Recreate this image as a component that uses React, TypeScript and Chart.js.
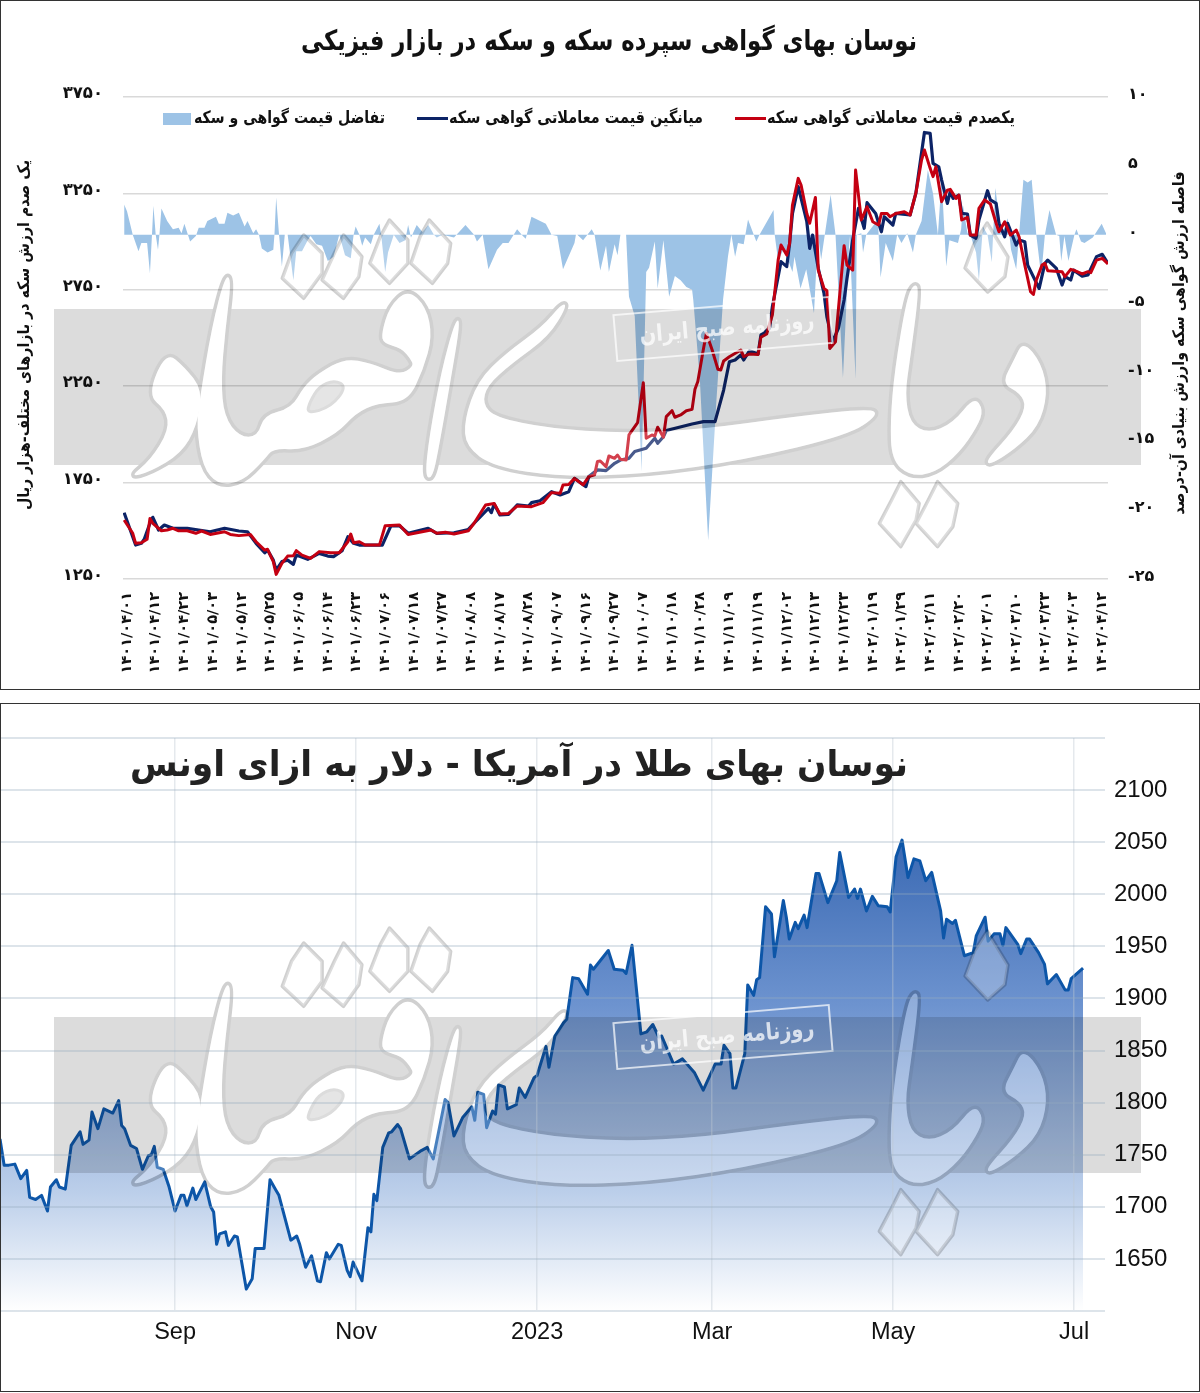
import React, { useEffect, useRef } from "react";
import { Chart, registerables } from "chart.js";

Chart.register(...registerables);

const FA = '"DejaVu Sans"';

const dateLabels = [
  "۱۴۰۱/۰۴/۰۱","۱۴۰۱/۰۴/۱۲","۱۴۰۱/۰۴/۲۲","۱۴۰۱/۰۵/۰۳","۱۴۰۱/۰۵/۱۲","۱۴۰۱/۰۵/۲۵","۱۴۰۱/۰۶/۰۵","۱۴۰۱/۰۶/۱۴","۱۴۰۱/۰۶/۲۳",
  "۱۴۰۱/۰۷/۰۶","۱۴۰۱/۰۷/۱۸","۱۴۰۱/۰۷/۲۷","۱۴۰۱/۰۸/۰۸","۱۴۰۱/۰۸/۱۷","۱۴۰۱/۰۸/۲۸","۱۴۰۱/۰۹/۰۷","۱۴۰۱/۰۹/۱۶","۱۴۰۱/۰۹/۲۷",
  "۱۴۰۱/۱۰/۰۷","۱۴۰۱/۱۰/۱۸","۱۴۰۱/۱۰/۲۸","۱۴۰۱/۱۱/۰۹","۱۴۰۱/۱۱/۱۹","۱۴۰۱/۱۲/۰۲","۱۴۰۱/۱۲/۱۳","۱۴۰۱/۱۲/۲۳","۱۴۰۲/۰۱/۱۹",
  "۱۴۰۲/۰۱/۲۹","۱۴۰۲/۰۲/۱۱","۱۴۰۲/۰۲/۲۰","۱۴۰۲/۰۳/۰۱","۱۴۰۲/۰۳/۱۰","۱۴۰۲/۰۳/۲۳","۱۴۰۲/۰۴/۰۳","۱۴۰۲/۰۴/۱۲",
];

// [trading-day index, thousand rials]
const topPercentile = [
  [-1,1556],[2,1487],[3,1435],[5,1438],[7,1456],[8,1564],[9,1539],[12,1500],[14,1504],[16,1513],[18,1500],[21,1500],[24,1487],[26,1499],[29,1481],[34,1495],[36,1481],[39,1475],[43,1481],[45,1443],[48,1400],[49,1404],[51,1340],[52,1274],[54,1331],[56,1369],[58,1371],[59,1397],[61,1374],[64,1357],[67,1392],[71,1386],[74,1386],[77,1443],[78,1483],[79,1438],[81,1443],[83,1426],[88,1426],[90,1526],[95,1530],[98,1481],[106,1504],[108,1487],[111,1492],[114,1483],[119,1500],[121,1539],[125,1634],[128,1642],[130,1587],[133,1590],[136,1628],[141,1625],[145,1646],[148,1698],[151,1695],[152,1738],[154,1740],[156,1772],[159,1738],[161,1781],[163,1790],[164,1859],[165,1862],[167,1833],[168,1888],[170,1876],[171,1893],[172,1871],[174,1867],[175,1997],[178,2061],[180,2268],[181,1980],[183,1997],[184,1992],[185,2037],[187,1985],[188,2092],[190,2123],[191,2089],[193,2101],[195,2123],[197,2130],[198,2234],[199,2274],[201,2447],[202,2524],[204,2438],[206,2338],[207,2334],[208,2381],[210,2403],[214,2438],[215,2403],[217,2417],[220,2415],[221,2504],[223,2521],[225,2620],[227,2904],[228,2982],[230,2930],[231,2991],[232,3190],[234,3328],[235,3293],[237,3146],[238,3095],[240,3229],[241,2852],[243,2757],[244,2745],[245,2446],[247,2481],[250,2979],[251,2878],[253,2852],[254,3371],[256,3112],[258,3181],[260,3103],[262,3086],[263,3146],[265,3146],[266,3129],[268,3146],[271,3155],[273,3138],[275,3250],[277,3423],[278,3475],[280,3380],[281,3337],[282,3388],[284,3207],[286,3267],[287,3271],[289,3224],[290,3241],[291,3112],[293,3126],[294,3034],[296,3034],[297,3172],[299,3216],[301,3195],[303,3095],[304,3051],[306,3103],[308,3034],[310,3060],[311,3025],[313,2878],[315,2740],[316,2726],[317,2800],[319,2878],[320,2887],[321,2849],[326,2844],[327,2818],[329,2856],[330,2852],[333,2832],[335,2844],[336,2839],[338,2904],[340,2913],[342,2884],
];

const averagePrice = [
  [-1,1594],[3,1426],[5,1435],[6,1456],[8,1539],[9,1570],[11,1504],[13,1530],[16,1513],[21,1513],[25,1504],[29,1495],[34,1513],[39,1499],[42,1495],[45,1435],[48,1386],[49,1400],[51,1348],[52,1296],[54,1340],[56,1348],[58,1326],[59,1374],[63,1352],[67,1383],[70,1369],[72,1366],[75,1397],[77,1469],[79,1435],[81,1426],[89,1426],[92,1526],[95,1526],[98,1487],[105,1513],[108,1487],[114,1490],[119,1507],[121,1539],[126,1616],[127,1594],[128,1639],[130,1582],[133,1585],[136,1634],[140,1628],[141,1646],[144,1656],[148,1703],[151,1686],[154,1703],[156,1772],[160,1729],[161,1781],[164,1816],[167,1812],[170,1850],[172,1867],[175,1876],[177,1911],[181,1928],[184,1980],[185,1954],[187,1988],[188,2020],[197,2054],[201,2066],[205,2066],[208,2230],[210,2377],[212,2386],[214,2412],[215,2386],[217,2434],[220,2417],[221,2516],[224,2550],[225,2663],[228,2896],[230,2870],[231,2991],[232,3146],[234,3285],[236,3164],[237,3103],[238,2965],[239,3034],[241,2860],[243,2731],[244,2610],[246,2481],[248,2550],[250,2697],[251,2809],[253,3008],[255,3172],[257,3069],[258,3202],[261,3146],[263,3051],[264,3129],[267,3086],[268,3146],[273,3138],[275,3250],[278,3566],[280,3561],[281,3406],[283,3388],[284,3319],[286,3198],[287,3259],[288,3224],[290,3241],[291,3146],[293,3143],[294,3034],[296,3017],[297,3112],[300,3264],[301,3216],[303,3198],[304,3095],[306,3025],[307,3095],[310,2982],[311,3008],[313,2999],[314,2878],[318,2757],[320,2887],[321,2904],[324,2861],[326,2775],[327,2818],[329,2801],[330,2852],[333,2821],[335,2827],[338,2922],[340,2934],[342,2887],
];

// [trading-day index, percent]
const priceSpread = [
  [-1,2.2],[0,1.7],[2,0],[4,-1.2],[5,-.6],[7,-.6],[8,-2.8],[8.7,0],[9.2,2.1],[10,0],[10.8,-1.1],[11.3,0],[12,1.9],[14,1],[16,.4],[18,.5],[19,.1],[20,.8],[22,-.5],[24,-.1],[25,.5],[27,.5],[28,1],[31,1.3],[32,.8],[34,.8],[35,1.6],[37,1.4],[39,1.6],[41,.6],[42,1],[44,.1],[45,.4],[46,0],[47,-1],[49,-1.3],[51,-1.1],[51.4,0],[52,2.7],[53,0],[54,-2.3],[55,0],[56,0],[58,-3.3],[59,-1.2],[61,-1.2],[63,-.4],[64,-.1],[66,-.7],[68,-.8],[70,-1.9],[72,-1.6],[74,0],[76,-1.5],[78,-1.7],[79,0],[79.7,.6],[81,0],[82,-.8],[83,-.2],[85,-.7],[86,0],[88,.8],[88.6,0],[90,-2.7],[91,-1.3],[93,0],[95,-.6],[97,-.4],[98,.7],[99,-.2],[101,.7],[103,.2],[105,.7],[107,0],[108,-.2],[110,0],[114,-.2],[118,.7],[121,0],[122,-.5],[124,0],[126,-2.5],[129,-1.1],[131,-.6],[133,-.6],[136,.4],[138,-.1],[139,-.3],[141,1.3],[146,.8],[148,0],[150,-.1],[152,-2.5],[156,-.6],[156.5,0],[157,0],[159,-.4],[162,.4],[163,0],[165,-2.6],[167,-.8],[168,-2.7],[170,-.7],[171,-1.5],[172,0],[174,0],[175,-4.5],[177,-5.9],[179.4,-17.2],[181,-2.7],[182,-2.4],[184,-.5],[185,-3.9],[187,-.4],[189,-4.5],[191,-3],[193,-3.3],[195,-3.8],[197,-4],[197.4,-4.7],[199.7,-10.5],[202.6,-22.2],[205.5,-12],[207.8,-4.7],[209.5,-1.6],[210.7,0],[212,-1.6],[213,-.6],[215,-.7],[216.5,1.1],[219.4,-.5],[220.5,0],[225.4,1.8],[225.8,0],[227,-1.9],[229,-1],[232,-2.7],[232.7,-1.6],[234.8,-3.9],[236.8,-2.5],[239.5,-5.7],[240.9,0],[242,-1.8],[245.3,2.9],[247,0],[249.6,-10.4],[251.9,-.1],[254,-10.5],[254.4,0],[256,.1],[256.6,-1.3],[257.7,0],[261.8,1.1],[262.7,-3.1],[264.5,-.6],[267,-1.9],[268.5,0],[270,-.6],[272,.1],[274,-1.3],[275,0],[277,1],[279.2,4.7],[281,3],[282.7,0],[284,4.1],[285.6,-2.3],[286.7,-.4],[289.7,-.6],[290.8,.4],[291.4,2.2],[293,.1],[294,0],[296,-1.3],[297,-3.3],[298.4,.6],[300,0],[301.5,-2],[302.7,3.4],[305,0],[307,1.2],[308.2,-1.1],[310,-2.5],[311,0],[312.5,4],[314,3.8],[315.4,4],[317,0],[318.7,-3],[320,0],[321.6,1.8],[323.9,0],[325,-.1],[325.7,-1.9],[326.8,-.1],[328.2,-1.9],[330.3,0],[331,.4],[332.6,-.5],[333.8,-.6],[336.7,-.2],[339.8,.8],[341.3,.1],
];

const topLabel = "یکصدم قیمت معاملاتی گواهی سکه";
const avgLabel = "میانگین قیمت معاملاتی گواهی سکه";
const spreadLabel = "تفاضل قیمت گواهی و سکه";
const coinTitle = "نوسان بهای گواهی سپرده سکه و سکه در بازار فیزیکی";
const leftAxisTitle = "یک صدم ارزش سکه در بازارهای مختلف-هزار ریال";
const rightAxisTitle = "فاصله ارزش گواهی سکه وارزش بنیادی آن-درصد";

// [days since 1 Jul 2022, USD per ounce]
const goldPrice = [
  [3,1765],[4.4,1740],[6,1740],[8,1741],[10,1727],[12,1735],[13,1709],[15,1707],[17,1711],[19,1696],[20,1719],[22,1726],[23,1719],[25,1717],[27,1759],[30,1772],[31,1760],[33,1764],[34,1791],[36,1775],[38,1794],[41,1790],[43,1802],[44,1778],[45,1775],[47,1759],[49,1756],[51,1736],[53,1749],[54,1750],[55,1758],[56,1738],[58,1736],[60,1719],[62,1696],[64,1711],[65,1711],[66,1701],[68,1718],[69,1707],[72,1724],[74,1700],[75,1695],[76,1664],[77,1674],[79,1676],[80,1663],[82,1672],[83,1671],[86,1621],[88,1631],[89,1660],[92,1660],[94,1726],[96,1716],[97,1711],[101,1668],[103,1672],[104,1664],[106,1642],[108,1653],[110,1629],[111,1628],[113,1656],[114,1650],[117,1664],[118,1663],[120,1639],[121,1633],[122,1647],[125,1629],[127,1680],[128,1676],[129,1712],[130,1706],[132,1757],[134,1771],[135,1772],[137,1779],[138,1775],[141,1746],[145,1754],[147,1757],[149,1746],[153,1803],[154,1800],[156,1768],[159,1786],[162,1796],[163,1783],[164,1810],[166,1808],[167,1776],[169,1792],[170,1789],[171,1817],[173,1815],[174,1794],[177,1798],[178,1814],[180,1805],[183,1824],[184,1826],[187,1854],[188,1834],[190,1864],[193,1877],[194,1880],[196,1920],[198,1919],[201,1904],[202,1932],[203,1928],[208,1946],[210,1928],[213,1927],[214,1924],[216,1951],[219,1866],[221,1868],[223,1875],[225,1863],[226,1864],[230,1837],[233,1842],[237,1829],[240,1812],[244,1837],[246,1837],[247,1855],[249,1847],[250,1814],[251,1814],[254,1847],[255,1913],[257,1903],[258,1918],[259,1920],[261,1988],[263,1981],[264,1940],[267,1994],[268,1978],[269,1957],[271,1973],[272,1967],[274,1980],[275,1968],[278,2020],[279,2020],[282,1992],[285,2013],[286,2040],[289,1997],[291,2005],[292,1996],[293,2005],[295,1984],[297,1998],[299,1989],[302,1988],[303,1983],[305,2036],[307,2052],[309,2016],[311,2034],[313,2032],[315,2013],[317,2021],[320,1984],[321,1958],[322,1976],[324,1972],[325,1975],[328,1941],[331,1944],[332,1960],[335,1978],[336,1955],[338,1962],[340,1962],[341,1951],[342,1968],[346,1952],[347,1943],[349,1957],[350,1957],[353,1944],[355,1933],[356,1914],[359,1923],[362,1908],[363,1908],[364,1919],[368,1929],
];
const goldTickDays = [62, 123, 184, 243, 304, 365];
const goldTickLabels = ["Sep", "Nov", "2023", "Mar", "May", "Jul"];
const goldTitle = "نوسان بهای طلا در آمریکا - دلار به ازای اونس";
const stampText = "روزنامه صبح ایران";

// Outlines of the paper's calligraphic logo, used only as a background decoration.
const logoPieces = [
  [[15,772],[50,720],[80,630],[75,570],[45,525],[75,395],[105,440],[135,510],[125,620],[100,700],[50,755]],
  [[172,165],[182,180],[172,330],[165,480],[170,590],[195,650],[225,650],[235,585],[280,565],[300,500],[324,460],[367,415],[410,430],[457,465],[479,440],[476,420],[460,385],[430,370],[427,340],[440,260],[470,208],[500,260],[510,350],[495,450],[470,545],[420,550],[385,580],[355,640],[300,690],[250,685],[235,720],[200,785],[160,795],[135,740],[125,620],[130,540],[150,320]],
  [[548,298],[556,305],[540,480],[520,690],[510,775],[498,770],[505,650],[525,450]],
  [[722,250],[730,258],[700,350],[640,430],[600,495],[592,550],[612,592],[700,625],[820,640],[950,628],[1100,590],[1225,565],[1238,585],[1190,645],[1020,720],[860,762],[720,770],[610,740],[565,680],[562,600],[585,480],[630,400],[690,320]],
  [[1298,190],[1305,210],[1290,420],[1282,520],[1290,610],[1320,640],[1360,610],[1395,530],[1410,570],[1400,620],[1370,700],[1330,760],[1290,768],[1260,720],[1258,600],[1265,450],[1285,230]],
  [[1475,362],[1505,430],[1515,520],[1500,620],[1460,690],[1420,735],[1415,720],[1460,630],[1480,560],[1470,520],[1440,490],[1460,420]],
];
const logoHole = [[305,582],[345,560],[370,500],[350,480],[325,500],[310,545]];
const logoDots = [
  [[300,45],[330,100],[330,160],[300,235],[265,175],[280,100]],
  [[365,45],[395,110],[390,170],[365,235],[330,180],[350,100]],
  [[440,0],[470,60],[470,130],[440,190],[408,130],[425,50]],
  [[505,0],[540,70],[535,130],[510,190],[475,130],[490,50]],
  [[1416,9],[1450,111],[1445,170],[1417,216],[1380,144],[1395,70]],
  [[1275,785],[1305,850],[1300,900],[1275,980],[1240,910],[1260,840]],
  [[1335,785],[1368,850],[1360,920],[1335,980],[1300,910],[1320,840]],
];

const toFa = (n: number) => String(n).replace(/\d/g, (d) => "۰۱۲۳۴۵۶۷۸۹"[+d]);
const xy = (pts: number[][]) => pts.map(([x, y]) => ({ x, y }));

function fitText(ctx: any, text: string, cx: number, cy: number, width: number, font: string, color: string, rot = 0) {
  ctx.save();
  ctx.font = font;
  ctx.fillStyle = color;
  ctx.textAlign = "center";
  ctx.textBaseline = "middle";
  ctx.direction = "rtl";
  const w = ctx.measureText(text).width;
  ctx.translate(cx, cy);
  ctx.rotate(rot);
  ctx.scale(width / w, 1);
  ctx.fillText(text, 0, 0);
  ctx.restore();
}

function logoPoint([x, y]: number[], oy: number) {
  return [120 + x / 1.633, 220 + y / 3 + oy];
}

function tracePiece(c: any, pts: number[][], oy: number) {
  const P = pts.map((p) => logoPoint(p, oy));
  const n = P.length;
  const mid = (a: number[], b: number[]) => [(a[0] + b[0]) / 2, (a[1] + b[1]) / 2];
  const s = mid(P[n - 1], P[0]);
  c.moveTo(s[0], s[1]);
  for (let i = 0; i < n; i++) {
    const m = mid(P[i], P[(i + 1) % n]);
    c.quadraticCurveTo(P[i][0], P[i][1], m[0], m[1]);
  }
  c.closePath();
}

function traceDot(c: any, pts: number[][], oy: number) {
  pts.forEach((p, i) => {
    const [x, y] = logoPoint(p, oy);
    if (i === 0) c.moveTo(x, y);
    else c.lineTo(x, y);
  });
  c.closePath();
}

// The grey band with the logo knocked out, multiplied over the marks.
function drawWatermark(ctx: any, w: number, h: number, oy: number) {
  const layer = document.createElement("canvas");
  layer.width = w;
  layer.height = h;
  const c: any = layer.getContext("2d");
  c.fillStyle = "#fff";
  c.fillRect(0, 0, w, h);
  c.fillStyle = "#dcdcdc";
  c.fillRect(54, 309 + oy, 1087, 156);
  c.lineJoin = "round";
  c.strokeStyle = "#d0d0d0";
  c.lineWidth = 7;
  for (const p of logoPieces) {
    c.beginPath();
    tracePiece(c, p, oy);
    c.stroke();
  }
  c.fillStyle = "#fff";
  for (const p of logoPieces) {
    c.beginPath();
    tracePiece(c, p, oy);
    c.fill();
  }
  c.lineWidth = 3.5;
  for (const p of logoDots) {
    c.beginPath();
    traceDot(c, p, oy);
    c.fill();
    c.stroke();
  }
  c.fillStyle = "#dcdcdc";
  c.beginPath();
  tracePiece(c, logoHole, oy);
  c.fill();
  c.lineWidth = 3;
  c.stroke();
  ctx.save();
  ctx.globalCompositeOperation = "multiply";
  ctx.drawImage(layer, 0, 0);
  ctx.restore();
  ctx.save();
  ctx.fillStyle = "rgba(255,255,255,.25)";
  for (const p of logoPieces) {
    ctx.beginPath();
    tracePiece(ctx, p, oy);
    ctx.fill();
  }
  for (const p of logoDots) {
    ctx.beginPath();
    traceDot(ctx, p, oy);
    ctx.fill();
  }
  ctx.restore();
  ctx.save();
  ctx.translate(723, 329 + oy);
  ctx.rotate(-0.084);
  ctx.strokeStyle = "rgba(255,255,255,.7)";
  ctx.lineWidth = 2;
  ctx.strokeRect(-108, -23, 216, 46);
  ctx.restore();
  fitText(ctx, stampText, 727, 329 + oy, 175, `bold 23px ${FA}`, "rgba(255,255,255,.75)", -0.084);
}

const whiteBg = {
  id: "whiteBg",
  beforeDraw(chart: any) {
    const { ctx, width, height } = chart;
    ctx.save();
    ctx.fillStyle = "#fff";
    ctx.fillRect(0, 0, width, height);
    ctx.restore();
  },
};

const coinDecor = {
  id: "coinDecor",
  afterDatasetsDraw(chart: any) {
    drawWatermark(chart.ctx, chart.width, chart.height, 0);
  },
  afterDraw(chart: any) {
    const ctx = chart.ctx;
    fitText(ctx, coinTitle, 609, 43, 616, `bold 28px ${FA}`, "#111");
    fitText(ctx, leftAxisTitle, 25, 335, 350, `bold 16px ${FA}`, "#111", -Math.PI / 2);
    fitText(ctx, rightAxisTitle, 1180, 343, 343, `bold 16px ${FA}`, "#111", -Math.PI / 2);
    const ds = chart.data.datasets;
    const y = 118.5;
    fitText(ctx, ds[0].label, 891, y, 248, `bold 17px ${FA}`, "#111");
    fitText(ctx, ds[1].label, 576, y, 254, `bold 17px ${FA}`, "#111");
    fitText(ctx, ds[2].label, 289.5, y, 191, `bold 17px ${FA}`, "#111");
    ctx.save();
    ctx.lineWidth = 3;
    ctx.strokeStyle = ds[0].borderColor;
    ctx.beginPath(); ctx.moveTo(735, 118.5); ctx.lineTo(766, 118.5); ctx.stroke();
    ctx.strokeStyle = ds[1].borderColor;
    ctx.beginPath(); ctx.moveTo(417, 118.5); ctx.lineTo(448, 118.5); ctx.stroke();
    ctx.fillStyle = ds[2].backgroundColor;
    ctx.fillRect(163, 113, 28, 12);
    ctx.restore();
  },
};

const goldDecor = {
  id: "goldDecor",
  afterDatasetsDraw(chart: any) {
    drawWatermark(chart.ctx, chart.width, chart.height, 708 - 696);
  },
  afterDraw(chart: any) {
    fitText(chart.ctx, goldTitle, 519, 767 - 696, 778, `bold 36px ${FA}`, "#222");
  },
};

function coinConfig(): any {
  return {
    type: "line",
    data: {
      datasets: [
        { label: topLabel, data: xy(topPercentile), borderColor: "#c40012", borderWidth: 3, pointRadius: 0, order: 1, yAxisID: "y", borderJoinStyle: "round" },
        { label: avgLabel, data: xy(averagePrice), borderColor: "#0c2366", borderWidth: 3.2, pointRadius: 0, order: 2, yAxisID: "y", borderJoinStyle: "round" },
        { label: spreadLabel, data: xy(priceSpread), borderWidth: 0, borderColor: "rgba(0,0,0,0)", backgroundColor: "#9dc3e6", fill: { target: { value: 0 } }, pointRadius: 0, order: 3, yAxisID: "y2" },
      ],
    },
    options: {
      animation: false,
      responsive: false,
      layout: { padding: { top: 97, left: 0, right: 0, bottom: 0 } },
      plugins: { legend: { display: false }, title: { display: false }, tooltip: { enabled: false } },
      scales: {
        x: {
          type: "linear", min: -1.4, max: 342,
          afterBuildTicks: (s: any) => { s.ticks = dateLabels.map((_, i) => ({ value: i * 10 })); },
          afterFit: (s: any) => { s.height = 117; },
          grid: { display: false }, border: { display: false },
          ticks: { autoSkip: false, maxRotation: 90, minRotation: 90, padding: 5, color: "#111", font: { family: FA, size: 14.5, weight: "bold" }, callback: (v: number) => dateLabels[Math.round(v / 10)] },
        },
        y: {
          position: "left", min: 1250, max: 3750,
          afterFit: (s: any) => { s.width = 123; },
          grid: { color: "#d9d9d9", lineWidth: 1.5, drawTicks: false }, border: { display: false },
          ticks: { stepSize: 500, padding: 20, labelOffset: -3, color: "#111", font: { family: FA, size: 16.5, weight: "bold" }, callback: (v: number) => toFa(v) },
        },
        y2: {
          position: "right", min: -25, max: 10,
          afterFit: (s: any) => { s.width = 92; },
          grid: { display: false, drawTicks: false }, border: { display: false },
          ticks: { stepSize: 5, padding: 20, labelOffset: -2, color: "#111", font: { family: FA, size: 16, weight: "bold" }, callback: (v: number) => toFa(v) },
        },
      },
    },
    plugins: [whiteBg, coinDecor],
  };
}

function goldConfig(): any {
  return {
    type: "line",
    data: {
      datasets: [
        {
          label: "Gold",
          data: xy(goldPrice),
          borderColor: "#0d56a8",
          borderWidth: 3,
          pointRadius: 0,
          fill: "start",
          borderJoinStyle: "round",
          backgroundColor: (c: any) => {
            const g = c.chart.ctx.createLinearGradient(0, 840 - 696, 0, 1311 - 696);
            g.addColorStop(0, "#3a69b3");
            g.addColorStop(0.35, "#6d93cf");
            g.addColorStop(0.75, "#bccfea");
            g.addColorStop(1, "#ffffff");
            return g;
          },
        },
      ],
    },
    options: {
      animation: false,
      responsive: false,
      layout: { padding: { top: 42, left: 0, right: 0, bottom: 0 } },
      plugins: { legend: { display: false }, title: { display: false }, tooltip: { enabled: false } },
      scales: {
        x: {
          type: "linear", min: 3, max: 375.4,
          afterBuildTicks: (s: any) => { s.ticks = goldTickDays.map((value) => ({ value })); },
          afterFit: (s: any) => { s.height = 82; },
          grid: { color: "rgba(190,200,210,.4)", lineWidth: 1.5, z: 1, drawTicks: false },
          border: { color: "#e2e6ea", width: 2 },
          ticks: { autoSkip: false, maxRotation: 0, padding: 7, color: "#111", font: { family: "Liberation Sans", size: 23.5 }, callback: (v: number) => goldTickLabels[goldTickDays.indexOf(v)] },
        },
        y: {
          position: "right", min: 1600, max: 2150,
          afterFit: (s: any) => { s.width = 95; },
          grid: { color: "rgba(150,170,190,.32)", lineWidth: 2, z: 1, drawTicks: false },
          border: { color: "#d8d8d8", width: 1 },
          ticks: { stepSize: 50, padding: 9, color: "#111", font: { family: "Liberation Sans", size: 24 }, callback: (v: number) => (v >= 1650 && v <= 2100 ? String(v) : "") },
        },
      },
    },
    plugins: [whiteBg, goldDecor],
  };
}

function ChartCanvas({ config, top, height, label }: { config: () => any; top: number; height: number; label: string }) {
  const ref = useRef<HTMLCanvasElement | null>(null);
  useEffect(() => {
    const chart = new Chart(ref.current as HTMLCanvasElement, config());
    return () => chart.destroy();
  }, [config]);
  return <canvas ref={ref} aria-label={label} width={1200} height={height} style={{ position: "absolute", left: 0, top, width: 1200, height, display: "block" }} />;
}

const frame = (top: number, height: number): React.CSSProperties => ({
  position: "absolute", left: 0, top, width: 1198, height, border: "1px solid #333", pointerEvents: "none",
});

export default function App() {
  return (
    <div style={{ position: "absolute", left: 0, top: 0, width: 1200, height: 1393, background: "#fff", overflow: "hidden" }}>
      <ChartCanvas config={coinConfig} top={0} height={696} label={coinTitle} />
      <ChartCanvas config={goldConfig} top={696} height={697} label={goldTitle} />
      <div style={{ position: "absolute", left: 0, top: 689, width: 1200, height: 15, background: "#fff" }} />
      <div style={frame(0, 688)} />
      <div style={frame(703, 687)} />
    </div>
  );
}
